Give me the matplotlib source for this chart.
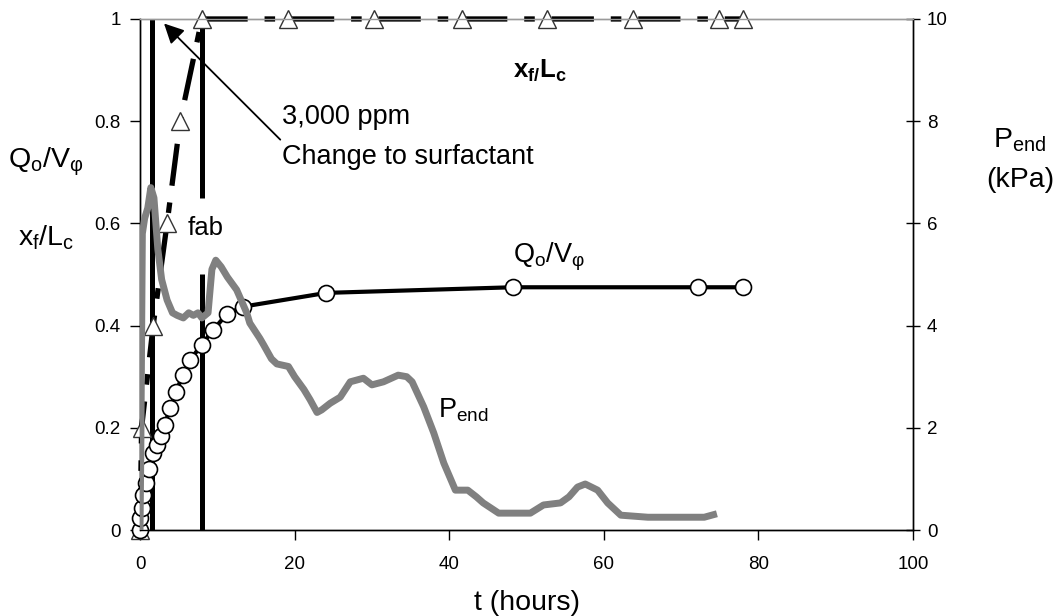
import numpy as np
import matplotlib.pyplot as plt

plt.rcParams['font.family'] = ['Liberation Sans', 'DejaVu Sans']
plt.rcParams['mathtext.fontset'] = 'custom'
plt.rcParams['mathtext.rm'] = 'Liberation Sans'
plt.rcParams['mathtext.it'] = 'Liberation Sans'
plt.rcParams['mathtext.bf'] = 'Liberation Sans:bold'
plt.rcParams['mathtext.fallback'] = 'stixsans'

# event times (hours)
surf_t = 1.6   # change to surfactant
fab_t = 8.0    # foam at breakthrough

# foam front position x_f/L_c
xf_t = [0, 0.2, 1.7, 3.5, 5.2, 8.0, 19.2, 30.3, 41.6, 52.7, 63.8, 74.9, 78.0]
xf_val = [0, 0.2, 0.4, 0.6, 0.8, 1, 1, 1, 1, 1, 1, 1, 1]

# oil recovery Q_o/V_phi
q_t = [0, 0.05, 0.2, 0.35, 0.78, 1.2, 1.7, 2.2, 2.7, 3.2, 3.9, 4.7, 5.5,
       6.5, 8.0, 9.5, 11.2, 13.3, 24.1, 48.2, 72.2, 78.0]
q_val = [0, 0.023, 0.043, 0.069, 0.092, 0.12, 0.15, 0.167, 0.183, 0.206,
         0.239, 0.27, 0.304, 0.333, 0.363, 0.392, 0.422, 0.437, 0.464,
         0.475, 0.475, 0.475]

# end pressure (kPa)
p_t = [0, 0.1, 0.3, 0.6, 1.0, 1.4, 1.8, 2.3, 2.8, 3.5, 4.2, 4.8, 5.6, 6.3,
       6.9, 7.5, 8.0, 8.8, 9.3, 9.8, 10.5, 11.3, 12.5, 13.8, 14.2, 15.5,
       16.0, 17.0, 17.7, 19.2, 20.0, 21.2, 22.0, 22.9, 23.5, 24.6, 25.9,
       27.2, 28.9, 30.0, 31.5, 33.4, 34.5, 35.2, 36.7, 38.0, 39.3, 40.8,
       42.4, 43.5, 44.4, 46.4, 48.3, 50.5, 52.2, 54.4, 55.5, 56.6, 57.6,
       59.2, 60.5, 62.2, 65.7, 70.0, 73.0, 74.2]
p_val = [0, 1.5, 5.8, 6.1, 6.3, 6.7, 6.5, 5.5, 4.9, 4.5, 4.25, 4.2, 4.15,
         4.25, 4.2, 4.25, 4.15, 4.25, 5.1, 5.28, 5.15, 4.95, 4.7, 4.25,
         4.05, 3.75, 3.62, 3.35, 3.25, 3.2, 3.0, 2.75, 2.55, 2.3, 2.35,
         2.48, 2.6, 2.9, 2.97, 2.84, 2.9, 3.03, 3.0, 2.9, 2.41, 1.9, 1.31,
         0.78, 0.78, 0.65, 0.53, 0.33, 0.33, 0.33, 0.49, 0.53, 0.65, 0.84,
         0.9, 0.78, 0.53, 0.29, 0.25, 0.25, 0.25, 0.3]

x_ticks = [0, 20, 40, 60, 80, 100]
y_ticks = [0, 0.2, 0.4, 0.6, 0.8, 1]
y_ticklabels = ['0', '0.2', '0.4', '0.6', '0.8', '1']
p_ticks = [0, 2, 4, 6, 8, 10]

fig = plt.figure(figsize=(10.6, 6.16), dpi=100)
ax = fig.add_axes([0.1321, 0.1396, 0.7292, 0.8296])

# event markers; the fab line is broken where its label sits
ax.vlines([surf_t, fab_t, fab_t], [0, 0, 0.65], [1.0, 0.5, 0.985],
          colors='black', lw=3.6, zorder=2)

ax.plot(xf_t, xf_val, color='black', lw=3.8, dashes=(8, 3.2, 2, 3.2),
        zorder=3, clip_on=False)
ax.plot(xf_t, xf_val, ls='none', marker='^', ms=13, mfc='white',
        mec='#333333', mew=1.0, zorder=4, clip_on=False)

ax.plot(q_t, q_val, color='black', lw=3, marker='o', ms=11.5, mfc='white',
        mec='black', mew=1.2, zorder=5, clip_on=False)

ax.set_xlim(0, 100)
ax.set_ylim(0, 1)
ax.set_xticks(x_ticks)
ax.set_xticklabels([str(v) for v in x_ticks])
ax.set_yticks(y_ticks)
ax.set_yticklabels(y_ticklabels)
ax.tick_params(axis='both', direction='out', length=7, width=1,
               labelsize=13.5)
ax.tick_params(axis='x', pad=12)
ax.tick_params(axis='y', pad=7)
ax.set_xlabel('t (hours)', fontsize=20.5, labelpad=12)

ax2 = ax.twinx()
ax2.plot(p_t, p_val, color='#808080', lw=5, solid_joinstyle='round',
         zorder=6)
ax2.set_ylim(0, 10)
ax2.set_yticks(p_ticks)
ax2.set_yticklabels([str(v) for v in p_ticks])
ax2.tick_params(axis='y', direction='inout', length=10, width=1,
                labelsize=13.5, pad=5)

for a in (ax, ax2):
    for s in a.spines.values():
        s.set_linewidth(1.0)
        s.set_color('black')
    a.spines['top'].set_color('#9a9a9a')

# annotations
ax.annotate('', xy=(2.85, 0.995), xytext=(18.4, 0.76),
            arrowprops=dict(arrowstyle='-|>,head_length=0.6,head_width=0.3',
                            mutation_scale=20, lw=1.3, color='black'),
            zorder=7)
ax.text(18.4, 0.808, '3,000 ppm', fontsize=19.5, ha='left', va='center')
ax.text(18.4, 0.73, 'Change to surfactant', fontsize=19.5, ha='left',
        va='center')
ax.text(6.2, 0.59, 'fab', fontsize=18.5, ha='left', va='center')
ax.text(48.2, 0.9, r'$\mathbf{x_{f/}L_c}$', fontsize=18.5, ha='left',
        va='center')
ax.text(48.3, 0.535, r'$\mathregular{Q_o/V_φ}$', fontsize=19.5, ha='left',
        va='center')
ax.text(38.5, 0.235, r'$\mathregular{P_{end}}$', fontsize=19.5, ha='left',
        va='center')

# axis titles
fig.text(46 / 1060, 1 - 162 / 616, r'$\mathregular{Q_o/V_φ}$', fontsize=20.5,
         ha='center', va='center')
fig.text(46 / 1060, 1 - 238 / 616, r'$\mathregular{x_f/L_c}$', fontsize=20.5,
         ha='center', va='center')
fig.text(1020 / 1060, 1 - 140 / 616, r'$\mathregular{P_{end}}$', fontsize=20.5,
         ha='center', va='center')
fig.text(1020 / 1060, 1 - 180 / 616, '(kPa)', fontsize=20.5,
         ha='center', va='center')

fig.savefig('out.png', dpi=100)
